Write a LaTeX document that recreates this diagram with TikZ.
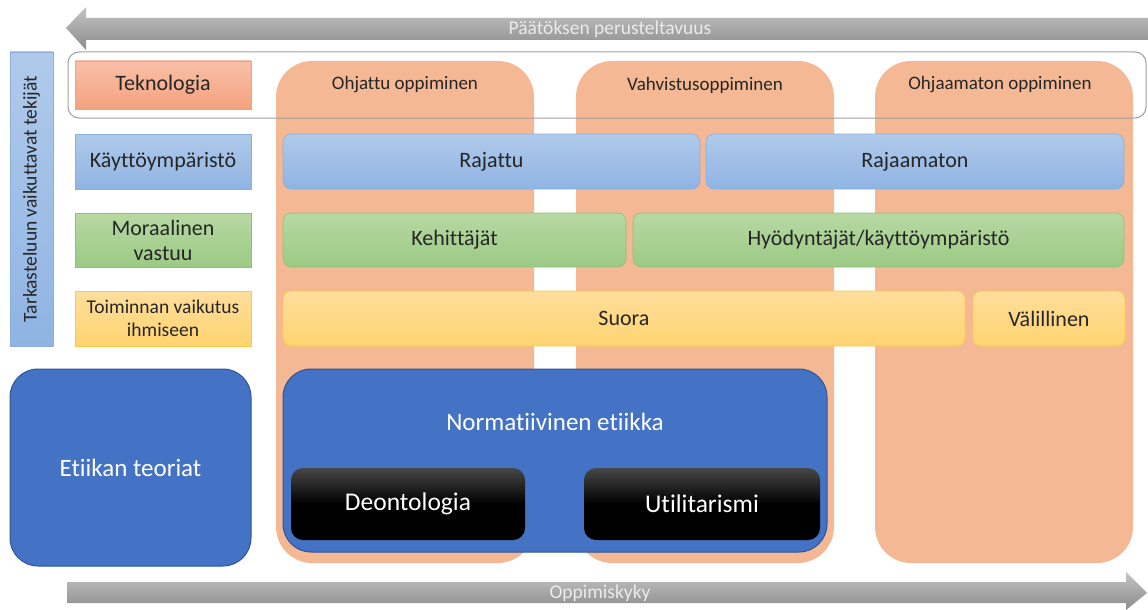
\documentclass[tikz,border=0pt]{standalone}
\usepackage{fontspec}
\setmainfont{Carlito}[Ligatures=NoCommon]
\usetikzlibrary{shapes.misc}
\definecolor{colfill}{HTML}{F4B994}
\definecolor{salmonT}{HTML}{F8C0A8}
\definecolor{salmonB}{HTML}{F4A27E}
\definecolor{blueT}{HTML}{B0CAEA}
\definecolor{blueB}{HTML}{8FB4E3}
\definecolor{blueD}{HTML}{8AAEDD}
\definecolor{greenT}{HTML}{B7D9A3}
\definecolor{greenB}{HTML}{9BCA84}
\definecolor{greenD}{HTML}{8EC07A}
\definecolor{yelT}{HTML}{FFDE9C}
\definecolor{yelB}{HTML}{FFD36F}
\definecolor{yelD}{HTML}{FFC845}
\definecolor{nblue}{HTML}{4472C4}
\definecolor{nblueD}{HTML}{2F5597}
\definecolor{arrT}{HTML}{C4C4C4}
\definecolor{arrB}{HTML}{8C8C8C}
\tikzset{
  lbl/.style={font=\fontsize{22}{24}\selectfont, align=center, text=black!85, inner sep=0pt},
  colbox/.style={rounded corners=36pt, fill=colfill, minimum width=258pt, minimum height=502pt, inner sep=0pt},
  coltext/.style={font=\fontsize{19}{21}\selectfont, text=black!85},
  salmonbox/.style={lbl, draw=salmonB, top color=salmonT, bottom color=salmonB, line width=0.6pt},
  bluebox/.style={lbl, draw=blueD, top color=blueT, bottom color=blueB, line width=0.6pt},
  greenbox/.style={lbl, draw=greenD, top color=greenT, bottom color=greenB, line width=0.6pt},
  yelbox/.style={lbl, draw=yelD, top color=yelT, bottom color=yelB, line width=0.6pt},
  rbluebox/.style={bluebox, rounded corners=8pt},
  rgreenbox/.style={greenbox, rounded corners=8pt},
  ryelbox/.style={yelbox, rounded corners=8pt},
  darkbox/.style={rounded corners=28pt, fill=nblue, draw=nblueD, line width=1pt, text=white, font=\fontsize{25}{27}\selectfont, inner sep=0pt},
  blackbox/.style={rounded corners=12pt, top color=black!72, bottom color=black, middle color=black, text=white, font=\fontsize{25.5}{27}\selectfont, inner sep=0pt, minimum height=72pt},
  arrowtext/.style={font=\fontsize{19.5}{21}\selectfont, text=white!92!black, inner sep=0pt},
}
\begin{document}
\begin{tikzpicture}[x=1pt,y=-1pt]
\useasboundingbox (0,0) rectangle (1148,610);
% top arrow (pointing left)
\shade[top color=arrT, bottom color=arrB]
  (66,28) -- (86,7) -- (86,18) -- (1148,18) -- (1148,40) -- (86,40) -- (86,50) -- cycle;
\node[arrowtext] (top) at (610,29) {Päätöksen perusteltavuus};
% bottom arrow (pointing right)
\shade[top color=arrT, bottom color=arrB]
  (67,582) -- (1126,582) -- (1126,572) -- (1147,593) -- (1126,610) -- (1126,603) -- (67,603) -- cycle;
\node[arrowtext] (bottom) at (600,593) {Oppimiskyky};
% columns
\node[colbox] (c1) at (405,312) {};
\node[colbox] (c2) at (705,312) {};
\node[colbox] (c3) at (1004,312) {};
\node[coltext] (c1t) at (405,85) {Ohjattu oppiminen};
\node[coltext] (c2t) at (705,85) {Vahvistusoppiminen};
\node[coltext] (c3t) at (1000,85) {Ohjaamaton oppiminen};
% white frame
\node[draw=black!38, line width=1pt, rounded corners=11pt, minimum width=1078pt, minimum height=66pt, inner sep=0pt] (frame) at (607,85) {};
% left vertical bar
\node[bluebox, minimum width=43pt, minimum height=294pt, line width=0.4pt] (bar) at (31.5,199) {};
\node[rotate=90, font=\fontsize{19.5}{21}\selectfont, text=black!85] (bart) at (bar.center) {Tarkasteluun vaikuttavat tekijät};
% left labels
\node[salmonbox, minimum width=176pt, minimum height=48pt] (tek) at (163,85) {Teknologia};
\node[bluebox, minimum width=176pt, minimum height=55pt] (kay) at (163,161.5) {Käyttöympäristö};
\node[greenbox, minimum width=176pt, minimum height=54pt] (mor) at (163,240) {Moraalinen\\[1pt]vastuu};
\node[yelbox, minimum width=176pt, minimum height=55pt, font=\fontsize{19.5}{23}\selectfont] (toi) at (163,318.5) {Toiminnan vaikutus\\ihmiseen};
% rows
\node[rbluebox, minimum width=417pt, minimum height=55pt] (raj) at (491.5,161.5) {Rajattu};
\node[rbluebox, minimum width=418pt, minimum height=55pt] (rajm) at (915,161.5) {Rajaamaton};
\node[rgreenbox, minimum width=343pt, minimum height=54pt] (keh) at (454.5,240) {Kehittäjät};
\node[rgreenbox, minimum width=491pt, minimum height=54pt] (hyo) at (878.5,240) {Hyödyntäjät/käyttöympäristö};
\node[ryelbox, minimum width=682pt, minimum height=55pt] (suo) at (624,318.5) {Suora};
\node[ryelbox, minimum width=152pt, minimum height=55pt] (val) at (1049,318.5) {Välillinen};
% ethics
\node[darkbox, minimum width=241pt, minimum height=197pt] (ete) at (130.5,467.5) {Etiikan teoriat};
\node[darkbox, minimum width=544pt, minimum height=183pt] (nor) at (555,460.5) {};
\node[text=white, font=\fontsize{25}{27}\selectfont] (nort) at (555,422) {Normatiivinen etiikka};
\node[blackbox, minimum width=234pt] (deo) at (408,504) {Deontologia};
\node[blackbox, minimum width=236pt] (uti) at (702,504) {Utilitarismi};
\end{tikzpicture}
\end{document}
